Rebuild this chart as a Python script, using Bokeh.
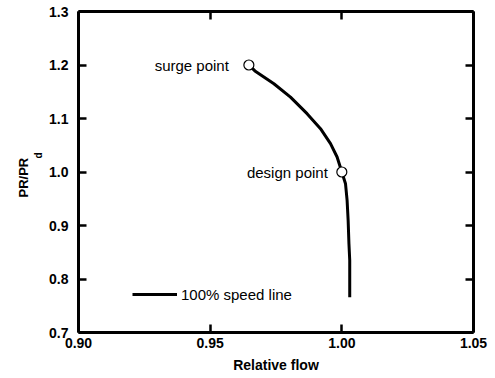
import math
from bokeh.plotting import figure
from bokeh.models import (LinearAxis, FixedTicker, PrintfTickFormatter, Range1d,
                          Label, Legend, LegendItem, Title)
from bokeh.embed import file_html
from bokeh.resources import INLINE

# ---- data ----
flow = [0.9647, 0.9670, 0.9742, 0.9805, 0.9868, 0.9919, 0.9957, 0.9982,
        1.0000, 1.0014, 1.0020, 1.0024, 1.0027, 1.0030, 1.0030]
pr = [1.200, 1.189, 1.165, 1.140, 1.109, 1.081, 1.053, 1.028,
      1.000, 0.978, 0.947, 0.909, 0.866, 0.835, 0.766]

point_names = ["surge point", "design point"]
point_flow = [0.9647, 1.0000]
point_pr = [1.2, 1.0]

x_ticks = [0.90, 0.95, 1.00, 1.05]
y_ticks = [0.7, 0.8, 0.9, 1.0, 1.1, 1.2, 1.3]
legend_label = "100% speed line"
x_title = "Relative flow"
y_title = "PR/PR"
y_sub = "d"

FONT = "Liberation Sans"
X0, X1, Y0, Y1 = 0.90, 1.05, 0.7, 1.3

p = figure(width=495, height=378,
           x_range=Range1d(X0, X1), y_range=Range1d(Y0, Y1),
           output_backend="svg", toolbar_location=None,
           x_axis_location=None, y_axis_location=None,
           min_border_left=78, min_border_right=22,
           min_border_top=11, min_border_bottom=46)
p.grid.visible = False
p.outline_line_color = None
p.background_fill_color = "white"
p.border_fill_color = "white"


def make_axis(ticks, fmt, show_labels, standoff=8):
    ax = LinearAxis(ticker=FixedTicker(ticks=ticks),
                    formatter=PrintfTickFormatter(format=fmt))
    ax.axis_line_width = 3
    ax.axis_line_color = "black"
    ax.major_tick_in = 8
    ax.major_tick_out = 0
    ax.major_tick_line_width = 2.5
    ax.major_tick_line_color = "black"
    ax.minor_tick_in = 0
    ax.minor_tick_out = 0
    ax.minor_tick_line_color = None
    ax.major_label_text_font = FONT
    ax.major_label_text_font_style = "bold"
    ax.major_label_text_font_size = "14px"
    ax.major_label_text_color = "black"
    ax.major_label_standoff = standoff
    if not show_labels:
        ax.major_label_overrides = {t: "" for t in ticks}
        ax.major_label_standoff = 0
    return ax


bottom = make_axis(x_ticks, "%.2f", True, standoff=5)
bottom.axis_label = x_title
bottom.axis_label_text_font = FONT
bottom.axis_label_text_font_style = "bold"
bottom.axis_label_text_font_size = "14px"
bottom.axis_label_text_color = "black"
bottom.axis_label_standoff = 6
p.add_layout(bottom, "below")

left = make_axis(y_ticks, "%.1f", True, standoff=10)
p.add_layout(left, "left")

# invisible spacer between tick labels and the y title
spacer = make_axis([1.0], "%.1f", False)
spacer.axis_line_color = None
spacer.major_tick_line_color = None
spacer.major_tick_in = 0
spacer.major_tick_out = 2
p.add_layout(spacer, "left")

# y title "PR/PR" with subscript "d", as two titles in the left panel
p.add_layout(Title(text=y_sub, align="left", offset=174, standoff=1,
                   text_font=FONT, text_font_style="bold",
                   text_font_size="10px", text_color="black"), "left")
p.add_layout(Title(text=y_title, align="left", offset=135, standoff=0,
                   text_font=FONT, text_font_style="bold",
                   text_font_size="13px", text_color="black"), "left")

top = make_axis(x_ticks, "%.2f", False)
p.add_layout(top, "above")
right = make_axis(y_ticks, "%.1f", False)
p.add_layout(right, "right")

# speed line
r = p.line(flow, pr, line_width=3, line_color="black", line_join="round")

# points
p.scatter(point_flow, point_pr, size=10, marker="circle",
          fill_color="white", line_color="black", line_width=1.2)

offsets = [-20, -14]
for name, fx, fy, off in zip(point_names, point_flow, point_pr, offsets):
    p.add_layout(Label(x=fx, y=fy, text=name, x_offset=off,
                       text_align="right", text_baseline="middle",
                       text_font=FONT, text_font_size="15px",
                       text_color="black"))

legend = Legend(items=[LegendItem(label=legend_label, renderers=[r])],
                location=(54, 28), glyph_width=45, glyph_height=20,
                label_height=20, label_standoff=4, padding=0, margin=0,
                border_line_color=None, background_fill_alpha=0,
                label_text_font=FONT, label_text_font_size="15px",
                label_text_color="black")
p.add_layout(legend)

open("out.html", "w").write(file_html(p, INLINE))
